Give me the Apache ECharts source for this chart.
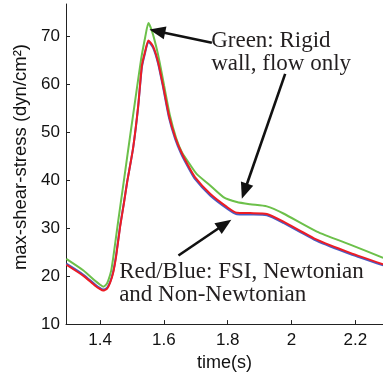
<!DOCTYPE html>
<html><head><meta charset="utf-8">
<script src="https://cdn.jsdelivr.net/npm/echarts@6/dist/echarts.min.js"></script>
<style>html,body{margin:0;padding:0;background:#fff}#c{width:383px;height:377px}</style>
</head><body><div id="c"></div>
<script>
const xTicks = [1.4, 1.6, 1.8, 2, 2.2];
const yTicks = [10, 20, 30, 40, 50, 60, 70];

const greenX = [1.294,1.3476,1.3843,1.4000,1.4094,1.4188,1.4251,1.4345,1.4417,1.4564,1.4737,1.4940,1.5129,1.5285,1.5411,1.5514,1.5630,1.5755,1.5865,1.6006,1.6194,1.6382,1.6571,1.6821,1.7031,1.7395,1.7865,1.8285,1.8702,1.9226,1.9746,2.0793,2.1837,2.2871];
const greenY = [23.61,21.19,19.03,18.21,17.80,18.21,19.03,21.09,24.17,31.36,39.57,49.22,58.05,65.24,69.76,72.77,70.99,67.91,64.62,59.69,53.33,48.81,45.73,43.23,41.27,39.22,36.49,35.46,34.99,34.54,33.06,29.30,26.57,23.82];

const redX = [1.294,1.3476,1.3843,1.4000,1.4094,1.4219,1.4313,1.4408,1.4502,1.4627,1.4752,1.4846,1.5034,1.5191,1.5307,1.5411,1.5514,1.5661,1.5818,1.5975,1.6163,1.6351,1.6539,1.6759,1.6978,1.7448,1.7972,1.8285,1.8702,1.9226,1.9746,2.0793,2.1837,2.2871];
const redY = [22.38,20.06,18.01,17.29,16.98,17.39,18.62,20.68,24.17,30.33,35.46,39.57,46.76,55.38,63.80,66.88,69.14,67.91,64.62,59.69,53.33,49.02,45.93,43.06,40.60,37.17,34.44,33.20,33.14,32.96,31.36,27.60,24.85,22.46];
const blueY = [22.6,20.3,18.25,17.5,17.2,17.6,18.8,20.9,24.4,30.5,35.6,39.6,46.7,55.2,63.5,66.6,68.9,67.6,64.3,59.3,52.9,48.6,45.5,42.7,40.2,36.8,34.1,32.9,32.85,32.7,31.1,27.35,24.6,22.25];

const greenLabel = 'Green: Rigid\nwall, flow only';
const redLabel = 'Red/Blue: FSI, Newtonian\nand Non-Newtonian';
// annotation anchors in data coordinates
const greenLabelAt = [1.748, 71.5];
const redLabelAt = [1.4596, 23.2];
const arrows = [
  {from: [1.7502, 68.67], to: [1.5545, 71.40]},
  {from: [1.9800, 62.16], to: [1.8442, 36.14]},
  {from: [1.6455, 24.31], to: [1.8113, 31.77]}
];

function pairs(xs, ys) { return xs.map((x, i) => [x, ys[i]]); }

const chart = echarts.init(document.getElementById('c'), null, {renderer: 'canvas'});
const axisCol = '#222';
chart.setOption({
  animation: false,
  backgroundColor: '#fff',
  grid: {left: 66, right: 0, top: 4, bottom: 48, containLabel: false},
  xAxis: {
    type: 'value', min: 1.293, max: 2.2867,
    name: 'time(s)', nameLocation: 'middle', nameGap: 25,
    nameTextStyle: {fontFamily: 'Liberation Sans', fontSize: 18, color: '#111'},
    axisLine: {show: true, onZero: false, lineStyle: {color: axisCol, width: 1}},
    axisTick: {show: true, inside: true, length: 4, customValues: xTicks, lineStyle: {color: axisCol}},
    axisLabel: {customValues: xTicks, margin: 8, fontFamily: 'Liberation Sans', fontSize: 17, color: '#111',
      formatter: v => String(v)},
    splitLine: {show: false}
  },
  yAxis: {
    type: 'value', min: 10, max: 76.74,
    name: 'max-shear-stress (dyn/cm²)', nameLocation: 'middle', nameGap: 36,
    nameTextStyle: {fontFamily: 'Liberation Sans', fontSize: 18.5, color: '#111', padding: [0, 0, 0, 14]},
    axisLine: {show: true, onZero: false, lineStyle: {color: axisCol, width: 1}},
    axisTick: {show: true, inside: true, length: 4, customValues: yTicks, lineStyle: {color: axisCol}},
    axisLabel: {customValues: yTicks, margin: 6, fontFamily: 'Liberation Sans', fontSize: 17, color: '#111'},
    splitLine: {show: false}
  },
  series: [
    {type: 'line', data: pairs(greenX, greenY), showSymbol: false, smooth: 0.2,
      lineStyle: {color: '#6cc04a', width: 2}, z: 3},
    {type: 'line', data: pairs(redX, blueY), showSymbol: false, smooth: 0.2,
      lineStyle: {color: '#4a5cc4', width: 2}, z: 2},
    {type: 'line', data: pairs(redX, redY), showSymbol: false, smooth: 0.2,
      lineStyle: {color: '#ed1c24', width: 2}, z: 4}
  ]
});

const px = p => chart.convertToPixel({gridIndex: 0}, p);
const g = [];
const textFont = '23px "Liberation Serif", "Times New Roman", serif';
const gp = px(greenLabelAt), rp = px(redLabelAt);
g.push({type: 'text', z: 10, style: {text: greenLabel, x: gp[0], y: gp[1], font: textFont, fill: '#231f20', lineHeight: 23, verticalAlign: 'top'}});
g.push({type: 'text', z: 10, style: {text: redLabel, x: rp[0], y: rp[1], font: textFont, fill: '#231f20', lineHeight: 23, verticalAlign: 'top'}});
arrows.forEach(a => {
  const f = px(a.from), t = px(a.to);
  const dx = t[0] - f[0], dy = t[1] - f[1];
  const L = Math.hypot(dx, dy), ux = dx / L, uy = dy / L;
  const hl = 16, hw = 6.5;
  const bx = t[0] - ux * hl, by = t[1] - uy * hl;
  g.push({type: 'line', z: 10, shape: {x1: f[0], y1: f[1], x2: bx + ux * 2, y2: by + uy * 2},
    style: {stroke: '#111', lineWidth: 2.6}});
  g.push({type: 'polygon', z: 10, shape: {points: [[t[0], t[1]], [bx - uy * hw, by + ux * hw], [bx + uy * hw, by - ux * hw]]},
    style: {fill: '#111'}});
});
chart.setOption({graphic: g});
</script>
</body></html>
